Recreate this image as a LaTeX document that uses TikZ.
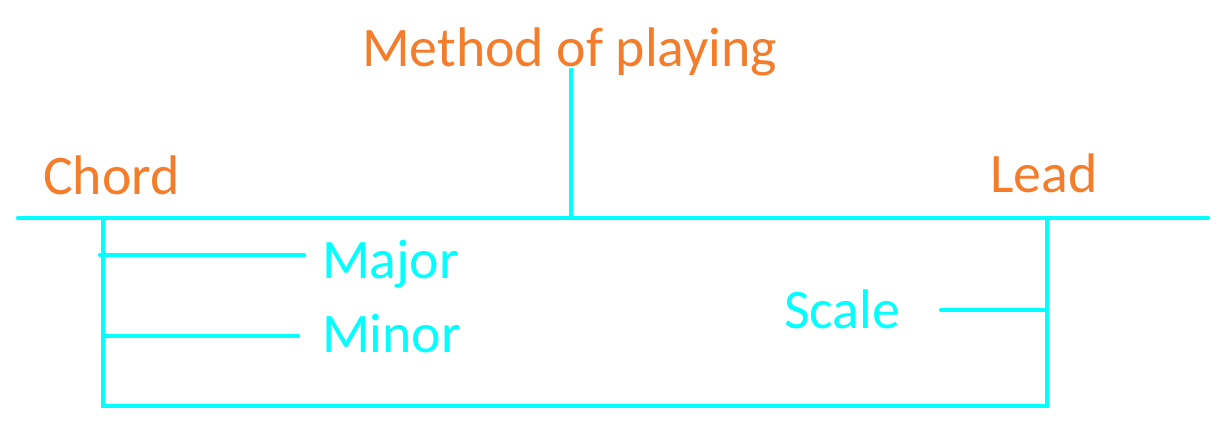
\documentclass[tikz,border=0pt]{standalone}
\usepackage{fontspec}
\setmainfont{Carlito}
\definecolor{orng}{HTML}{F47D2C}
\definecolor{cyn}{HTML}{00FFFF}
\begin{document}
\begin{tikzpicture}[x=1pt,y=-1pt,
  lbl/.style={anchor=base west,inner sep=0pt,font=\fontsize{55.8}{60}\selectfont},
  head/.style={lbl,text=orng},
  sub/.style={lbl,text=cyn},
  wire/.style={draw=cyn,line width=4.3pt,line cap=round}]
\useasboundingbox (0,0) rectangle (1222,446);
% texts
\node[head] (method) at (362,67) {Method of playing};
\node[head] (chord) at (43,195) {Chord};
\node[head] (lead) at (990,193) {Lead};
\node[sub] (major) at (322,278) {Major};
\node[sub] (minor) at (322,352) {Minor};
\node[sub] (scale) at (784,328) {Scale};
% coordinates
\coordinate (mL) at (18,218);
\coordinate (mR) at (1208,218);
\coordinate (top) at (571,68);
\coordinate (topB) at (571,218);
\coordinate (lT) at (103,218);
\coordinate (lB) at (103,406);
\coordinate (rT) at (1047,218);
\coordinate (rB) at (1047,406);
\coordinate (majL) at (100,255);
\coordinate (majR) at (304,255);
\coordinate (minL) at (103,336);
\coordinate (minR) at (298,336);
\coordinate (scL) at (941,310);
\coordinate (scR) at (1047,310);
% lines
\draw[wire] (mL) -- (mR);
\draw[wire,line cap=butt] (top) -- (topB);
\draw[wire,line cap=butt,line join=miter] (lT) -- (lB) -- (rB) -- (rT);
\draw[wire] (majL) -- (majR);
\draw[wire] (minL) -- (minR);
\draw[wire] (scL) -- (scR);
\end{tikzpicture}
\end{document}
